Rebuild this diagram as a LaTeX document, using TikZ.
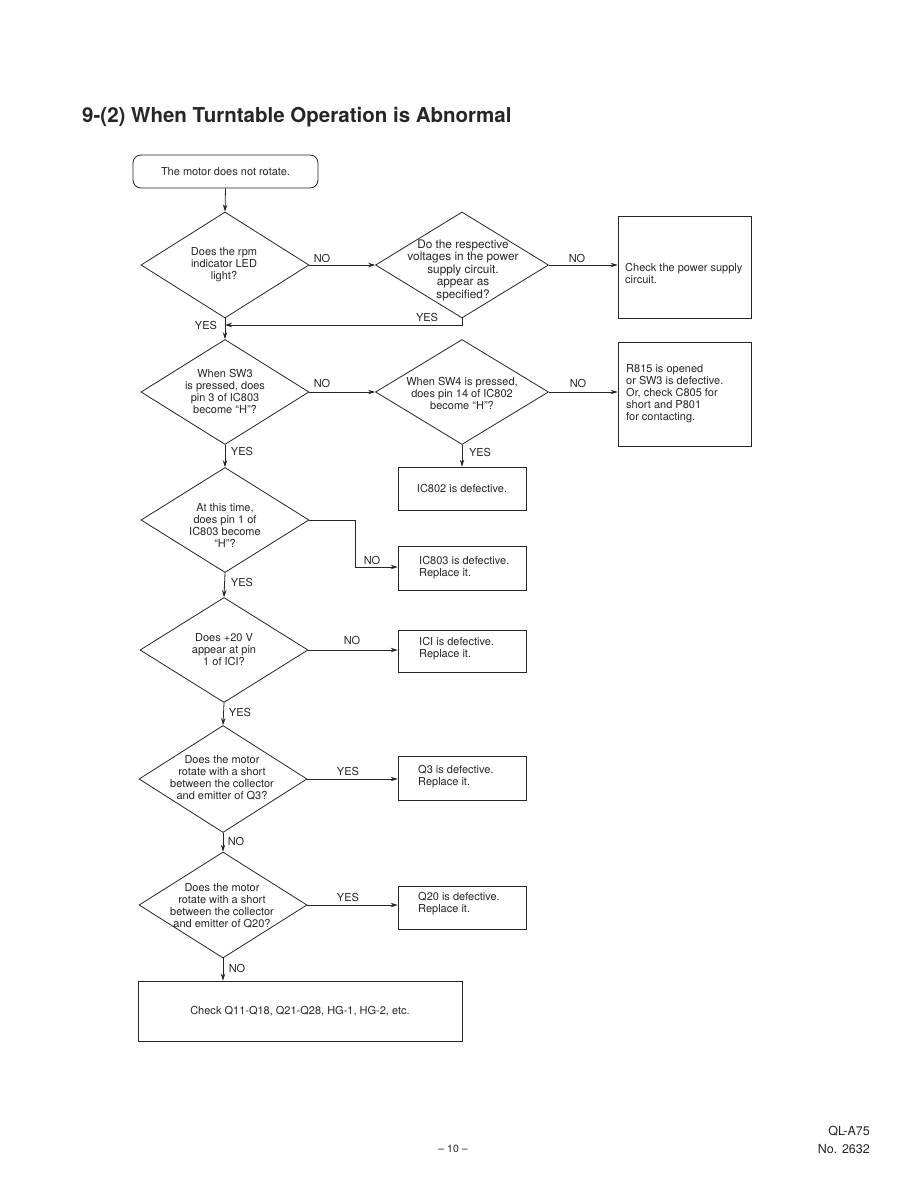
\documentclass[tikz,border=0pt]{standalone}
\usepackage{fontspec}
\setmainfont{TeX Gyre Heros}
\usetikzlibrary{shapes.geometric,arrows.meta}
\definecolor{ink}{HTML}{262626}
\tikzset{
  ln/.style={draw=ink,line width=0.8pt},
  arr/.style={ln,-{Stealth[length=7pt,width=4.5pt]}},
  dia/.style={shape=diamond,draw=ink,line width=0.8pt,inner sep=0pt,minimum width=168pt,minimum height=106pt},
  box/.style={shape=rectangle,draw=ink,line width=0.8pt,inner sep=0pt},
  txt/.style={text=ink,font=\fontsize{11}{12}\selectfont,align=center,inner sep=0pt},
  ltxt/.style={text=ink,font=\fontsize{11}{12}\selectfont,align=left,inner sep=0pt,anchor=west},
  lab/.style={text=ink,font=\fontsize{11}{12}\selectfont,inner sep=0pt},
}
\begin{document}
\begin{tikzpicture}[x=1pt,y=-1pt]
\useasboundingbox (0,0) rectangle (918,1188);
\fill[white] (0,0) rectangle (918,1188);
% title
\node[anchor=base west,text=ink,inner sep=0pt,font=\fontsize{20.5}{24}\selectfont\bfseries] (title) at (82,123) {9-(2) When Turntable Operation is Abnormal};
% start
\node[box,rounded corners=8pt,minimum width=185pt,minimum height=33pt] (start) at (225.5,171.5) {};
\node[txt] (startt) at (start.center) {The motor does not rotate.};
% diamonds
\node[dia] (d1) at (225,265) {};
\node[txt] (d1t) at (224,265) {Does the rpm\\indicator LED\\light?};
\node[dia,minimum width=173pt] (d2) at (462,265) {};
\node[txt,font=\fontsize{11.8}{12.5}\selectfont] (d2t) at (463,270) {Do the respective\\voltages in the power\\supply circuit.\\appear as\\specified?};
\node[dia,minimum height=105pt] (d3) at (225,392) {};
\node[txt] (d3t) at (225,391) {When SW3\\is pressed, does\\pin 3 of IC803\\become ``H''?};
\node[dia,minimum width=173pt,minimum height=105pt] (d4) at (462,392) {};
\node[txt] (d4t) at (462,393) {When SW4 is pressed,\\does pin 14 of IC802\\become ``H''?};
\node[dia,minimum height=105pt] (d5) at (225,520) {};
\node[txt] (d5t) at (225,525) {At this time,\\does pin 1 of\\IC803 become\\``H''?};
\node[dia,minimum height=105pt] (d6) at (224,650) {};
\node[txt] (d6t) at (224,650) {Does +20 V\\appear at pin\\1 of ICI?};
\node[dia,minimum height=107pt] (d7) at (223,779) {};
\node[txt] (d7t) at (222,778) {Does the motor\\rotate with a short\\between the collector\\and emitter of Q3?};
\node[dia,minimum height=106pt] (d8) at (223,905) {};
\node[txt] (d8t) at (222,906) {Does the motor\\rotate with a short\\between the collector\\and emitter of Q20?};
% boxes
\node[box,minimum width=133pt,minimum height=102pt] (b1) at (684.5,267) {};
\node[ltxt] (b1t) at (625,273) {Check the power supply\\circuit.};
\node[box,minimum width=133pt,minimum height=104pt] (b2) at (684.5,394) {};
\node[ltxt] (b2t) at (626,394) {R815 is opened\\or SW3 is defective.\\Or, check C805 for\\short and P801\\for contacting.};
\node[box,minimum width=128pt,minimum height=43pt] (b3) at (462,488.5) {};
\node[txt] (b3t) at (b3.center) {IC802 is defective.};
\node[box,minimum width=128pt,minimum height=44pt] (b4) at (462,568) {};
\node[ltxt] (b4t) at (419,568) {IC803 is defective.\\Replace it.};
\node[box,minimum width=128pt,minimum height=42pt] (b5) at (462,651) {};
\node[ltxt] (b5t) at (419,649) {ICI is defective.\\Replace it.};
\node[box,minimum width=128pt,minimum height=44pt] (b6) at (462,778) {};
\node[ltxt] (b6t) at (418,777) {Q3 is defective.\\Replace it.};
\node[box,minimum width=128pt,minimum height=43pt] (b7) at (462,907.5) {};
\node[ltxt] (b7t) at (418,904) {Q20 is defective.\\Replace it.};
\node[box,minimum width=324pt,minimum height=60pt] (b8) at (300,1011) {};
\node[txt] (b8t) at (b8.center) {Check Q11-Q18, Q21-Q28, HG-1, HG-2, etc.};
% connectors
\draw[arr] (start.south) -- (d1.north);
\draw[arr] (d1.east) -- (d2.west);
\draw[arr] (d2.east) -- (d2.east -| b1.west);
\coordinate (j1) at (225,325);
\draw[arr] (d2.south) |- (j1);
\draw[arr] (d1.south) -- (d3.north);
\draw[arr] (d3.east) -- (d4.west);
\draw[arr] (d4.east) -- (d4.east -| b2.west);
\draw[arr] (d4.south) -- (b3.north);
\draw[arr] (d3.south) -- (d5.north);
\coordinate (k1) at (355,520);
\coordinate (k2) at (355,567);
\draw[arr] (d5.east) -- (k1) -- (k2) -- (k2 -| b4.west);
\draw[arr] (d5.south) -- (d6.north);
\draw[arr] (d6.east) -- (d6.east -| b5.west);
\draw[arr] (d6.south) -- (d7.north);
\draw[arr] (d7.east) -- (d7.east -| b6.west);
\draw[arr] (d7.south) -- (d8.north);
\draw[arr] (d8.east) -- (d8.east -| b7.west);
\draw[arr] (d8.south) -- (d8.south |- b8.north);
% labels
\node[lab] (l1) at (322,258) {NO};
\node[lab] (l2) at (577,258) {NO};
\node[lab] (l3) at (427,317) {YES};
\node[lab] (l4) at (206,325) {YES};
\node[lab] (l5) at (322,383) {NO};
\node[lab] (l6) at (578,383) {NO};
\node[lab] (l7) at (480,452) {YES};
\node[lab] (l8) at (242,451) {YES};
\node[lab] (l9) at (372,560) {NO};
\node[lab] (l10) at (242,582) {YES};
\node[lab] (l11) at (352,640) {NO};
\node[lab] (l12) at (240,712) {YES};
\node[lab] (l13) at (348,771) {YES};
\node[lab] (l14) at (236,841) {NO};
\node[lab] (l15) at (348,897) {YES};
\node[lab] (l16) at (237,968) {NO};
% footer
\node[anchor=base,text=ink,inner sep=0pt,font=\fontsize{10.5}{12}\selectfont] (pg) at (453,1152) {-- 10 --};
\node[anchor=base east,text=ink,inner sep=0pt,font=\fontsize{12.5}{15}\selectfont] (f1) at (870,1135) {QL-A75};
\node[anchor=base east,text=ink,inner sep=0pt,font=\fontsize{12.5}{15}\selectfont] (f2) at (870,1153) {No. 2632};
\end{tikzpicture}
\end{document}
